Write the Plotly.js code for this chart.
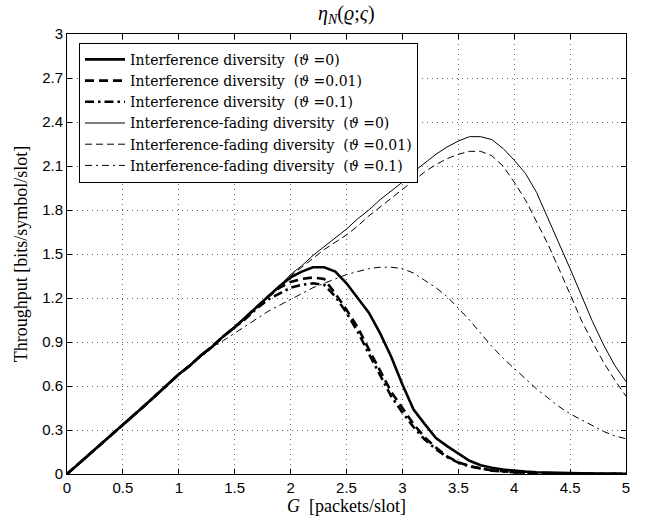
<!DOCTYPE html>
<html>
<head>
<meta charset="utf-8">
<script src="https://cdn.plot.ly/plotly-3.0.1.min.js"></script>
<style>html,body{margin:0;padding:0;background:#fff;}#chart{width:651px;height:522px;}</style>
</head>
<body>
<div id="chart"></div>
<script>
// G [packets/slot]
const G = [0,0.1,0.2,0.3,0.4,0.5,0.6,0.7,0.8,0.9,1.0,1.1,1.2,1.3,1.4,1.5,1.6,1.7,1.8,1.9,2.0,2.1,2.2,2.3,2.4,2.5,2.6,2.7,2.8,2.9,3.0,3.1,3.2,3.3,3.4,3.5,3.6,3.7,3.8,3.9,4.0,4.1,4.2,4.3,4.4,4.5,4.6,4.7,4.8,4.9,5.0];

// Interference diversity
const intf0   = [0,0.067,0.134,0.20,0.265,0.33,0.40,0.47,0.54,0.61,0.68,0.74,0.81,0.87,0.94,1.00,1.07,1.14,1.21,1.28,1.34,1.38,1.41,1.41,1.38,1.30,1.20,1.10,0.96,0.80,0.61,0.44,0.34,0.245,0.19,0.14,0.09,0.06,0.042,0.03,0.021,0.016,0.012,0.009,0.007,0.005,0.004,0.003,0.002,0.002,0.001];
const intf001 = [0,0.067,0.134,0.20,0.265,0.33,0.40,0.47,0.54,0.61,0.68,0.74,0.81,0.87,0.94,1.00,1.07,1.14,1.21,1.27,1.31,1.33,1.34,1.33,1.23,1.12,1.00,0.85,0.70,0.56,0.45,0.34,0.25,0.18,0.12,0.08,0.055,0.037,0.025,0.017,0.012,0.008,0.006,0.004,0.003,0.002,0.002,0.001,0.001,0.001,0.001];
const intf01  = [0,0.067,0.134,0.20,0.265,0.33,0.40,0.47,0.54,0.61,0.68,0.74,0.81,0.87,0.94,1.00,1.06,1.13,1.19,1.23,1.27,1.29,1.30,1.29,1.21,1.10,0.97,0.82,0.67,0.53,0.42,0.32,0.235,0.17,0.115,0.078,0.052,0.035,0.023,0.016,0.011,0.007,0.005,0.004,0.003,0.002,0.001,0.001,0.001,0.001,0.001];

// Interference-fading diversity
const fad0   = [0,0.067,0.134,0.20,0.265,0.33,0.40,0.47,0.54,0.61,0.68,0.74,0.81,0.87,0.94,1.00,1.07,1.14,1.21,1.28,1.36,1.42,1.49,1.55,1.61,1.67,1.74,1.80,1.87,1.93,1.99,2.06,2.12,2.18,2.23,2.27,2.30,2.30,2.28,2.22,2.14,2.05,1.92,1.75,1.58,1.40,1.22,1.04,0.88,0.74,0.63];
const fad001 = [0,0.067,0.134,0.20,0.265,0.33,0.40,0.47,0.54,0.61,0.68,0.74,0.81,0.87,0.94,1.00,1.07,1.14,1.21,1.28,1.35,1.41,1.47,1.53,1.58,1.63,1.69,1.76,1.82,1.88,1.94,2.00,2.06,2.11,2.15,2.18,2.20,2.20,2.17,2.10,1.99,1.87,1.72,1.57,1.40,1.22,1.05,0.90,0.76,0.64,0.53];
const fad01  = [0,0.067,0.134,0.20,0.265,0.33,0.40,0.47,0.54,0.61,0.68,0.74,0.80,0.86,0.91,0.96,1.01,1.06,1.11,1.15,1.19,1.23,1.27,1.30,1.33,1.36,1.38,1.40,1.41,1.41,1.40,1.37,1.32,1.27,1.21,1.13,1.05,0.96,0.87,0.79,0.72,0.65,0.58,0.52,0.46,0.41,0.37,0.33,0.29,0.26,0.24];

const names = [
  "Interference diversity  (<i>ϑ</i> =0)",
  "Interference diversity  (<i>ϑ</i> =0.01)",
  "Interference diversity  (<i>ϑ</i> =0.1)",
  "Interference-fading diversity  (<i>ϑ</i> =0)",
  "Interference-fading diversity  (<i>ϑ</i> =0.01)",
  "Interference-fading diversity  (<i>ϑ</i> =0.1)"
];
const xTicks = [0,0.5,1,1.5,2,2.5,3,3.5,4,4.5,5];
const xTickText = ["0","0.5","1","1.5","2","2.5","3","3.5","4","4.5","5"];
const yTicks = [0,0.3,0.6,0.9,1.2,1.5,1.8,2.1,2.4,2.7,3];
const yTickText = ["0","0.3","0.6","0.9","1.2","1.5","1.8","2.1","2.4","2.7","3"];

const series = [intf0, intf001, intf01, fad0, fad001, fad01];
const widths = [2.6, 2.6, 2.6, 1, 1, 1];
const dashes = ["solid", "9px,5px", "9px,4px,2.5px,4px", "solid", "7px,4px", "7px,4px,2px,4px"];

const traces = series.map((s, i) => ({
  x: G, y: s, type: "scatter", mode: "lines", name: names[i],
  line: {color: "#000", width: widths[i], dash: dashes[i]}
}));

const serif = "Liberation Serif, Times New Roman, serif";
const axisCommon = {
  showline: true, linecolor: "#000", linewidth: 1, mirror: "ticks",
  ticks: "inside", ticklen: 5, tickcolor: "#000",
  showgrid: true, gridcolor: "#666", griddash: "1px,4px", gridwidth: 1,
  zeroline: false,
  tickfont: {family: "Liberation Sans, Arial, sans-serif", size: 15, color: "#000"}
};

const layout = {
  width: 651, height: 522,
  margin: {l: 67, r: 25, t: 34, b: 48},
  paper_bgcolor: "#fff", plot_bgcolor: "#fff",
  title: {text: "<i>η</i><sub><i>N</i></sub>(<i>ϱ</i>;<i>ς</i>)", x: 0.532, xanchor: "center", y: 0.975, yanchor: "middle",
          font: {family: serif, size: 20, color: "#000"}},
  xaxis: Object.assign({}, axisCommon, {
    range: [0, 5], tickvals: xTicks, ticktext: xTickText,
    title: {text: "<i>G</i>  [packets/slot]", standoff: 2,
            font: {family: serif, size: 18, color: "#000"}}
  }),
  yaxis: Object.assign({}, axisCommon, {
    range: [0, 3], tickvals: yTicks, ticktext: yTickText,
    title: {text: "Throughput [bits/symbol/slot]", standoff: 9,
            font: {family: serif, size: 18, color: "#000"}}
  }),
  showlegend: true,
  legend: {
    x: 0.0215, y: 0.98, xanchor: "left", yanchor: "top",
    bgcolor: "#fff", bordercolor: "#000", borderwidth: 1,
    font: {family: "DejaVu Serif, serif", size: 14, color: "#000"},
    itemwidth: 40, tracegroupgap: 0
  }
};

Plotly.newPlot("chart", traces, layout, {staticPlot: true, displayModeBar: false});
</script>
</body>
</html>
